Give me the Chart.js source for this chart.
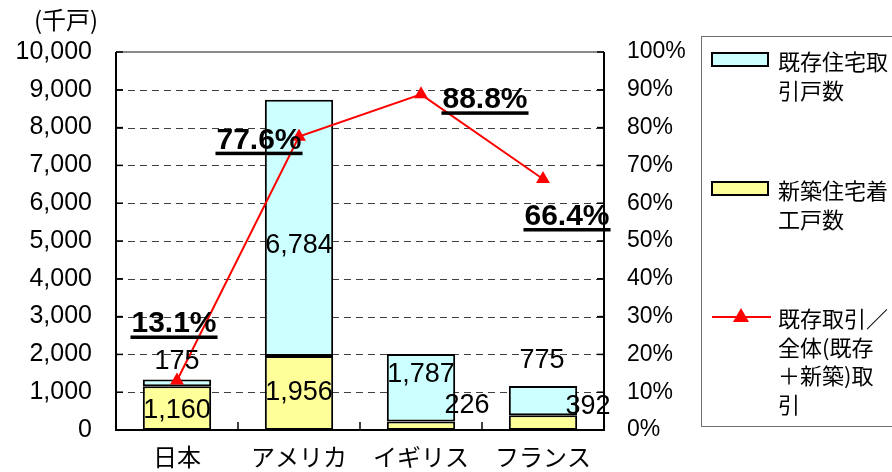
<!DOCTYPE html>
<html><head><meta charset="utf-8">
<script src="https://cdn.jsdelivr.net/npm/chart.js@4"></script>
<style>html,body{margin:0;padding:0;background:#fff;overflow:hidden}#wrap{width:892px;height:472px;position:relative}</style>
</head><body><div id="wrap"><canvas id="c" width="892" height="472"></canvas></div>
<script>
// ---- data ----
const categories = ['日本', 'アメリカ', 'イギリス', 'フランス'];
const newBuilt = [1160, 1956, 226, 392];          // 新築住宅着工戸数（千戸）
const existing = [175, 6784, 1787, 775];          // 既存住宅取引戸数（千戸）
const existingShare = [13.1, 77.6, 88.8, 66.4];   // 既存取引／全体（%）
const seriesNames = ['既存住宅取引戸数', '新築住宅着工戸数', '既存取引／全体(既存＋新築)取引'];
const unitLabel = '(千戸)';

// ---- label placement (style only) ----
const newLabelOffsets = [[0, 2], [0, 0], [46, -20], [45, -16]];
const existingLabelOffsets = [[0, -21], [0, 18], [0, -13], [-1, -40]];
const shareLabelOffsets = [[-3, -59], [-40, 1], [64, 3], [24, 35]];

const FONT = '"Liberation Sans", Arial, "Noto Sans CJK JP", sans-serif';
const CJK = '"Noto Sans CJK JP", "Liberation Sans", sans-serif';
const CYAN = '#CCFFFF', YELLOW = '#FFFF99', RED = '#FF0000';

function fmt(v) { return v.toLocaleString('en-US'); }

const overlay = {
  id: 'overlay',
  beforeDatasetsDraw(chart) {
    const { ctx, chartArea: a, scales } = chart;
    ctx.save();
    ctx.strokeStyle = '#404040'; ctx.lineWidth = 1; ctx.setLineDash([7, 5]);
    scales.y.ticks.forEach(t => {
      if (t.value <= 0 || t.value >= 10000) return;
      const yy = Math.round(scales.y.getPixelForValue(t.value)) + 0.5;
      ctx.beginPath(); ctx.moveTo(a.left, yy); ctx.lineTo(a.right, yy); ctx.stroke();
    });
    ctx.setLineDash([]);
    ctx.strokeStyle = '#8a8a8a'; ctx.lineWidth = 2;
    ctx.beginPath(); ctx.moveTo(a.left, a.top); ctx.lineTo(a.right, a.top); ctx.stroke();
    ctx.strokeStyle = '#000'; ctx.lineWidth = 2;
    ctx.beginPath();
    ctx.moveTo(a.left, a.top); ctx.lineTo(a.left, a.bottom); ctx.lineTo(a.right, a.bottom); ctx.lineTo(a.right, a.top);
    ctx.stroke();
    ctx.lineWidth = 1.5;
    scales.y.ticks.forEach(t => {
      const yy = scales.y.getPixelForValue(t.value);
      ctx.beginPath(); ctx.moveTo(a.left, yy); ctx.lineTo(a.left + 7, yy); ctx.stroke();
    });
    scales.y1.ticks.forEach(t => {
      const yy = scales.y1.getPixelForValue(t.value);
      ctx.beginPath(); ctx.moveTo(a.right - 7, yy); ctx.lineTo(a.right, yy); ctx.stroke();
    });
    const n = categories.length, cw = (a.right - a.left) / n;
    for (let i = 1; i < n; i++) {
      const xx = scales.x.getPixelForValue(i) - cw / 2;
      ctx.beginPath(); ctx.moveTo(xx, a.bottom); ctx.lineTo(xx, a.bottom - 8); ctx.stroke();
    }
    ctx.restore();
  },
  afterDatasetsDraw(chart) {
    const { ctx } = chart;
    ctx.save();
    ctx.fillStyle = '#000';
    ctx.textAlign = 'center'; ctx.textBaseline = 'middle';
    ctx.font = '27px ' + FONT;
    const mNew = chart.getDatasetMeta(0), mEx = chart.getDatasetMeta(1), mLine = chart.getDatasetMeta(2);
    mNew.data.forEach((b, i) => {
      const o = newLabelOffsets[i];
      ctx.fillText(fmt(newBuilt[i]), b.x + o[0], (b.y + b.base) / 2 + o[1]);
    });
    mEx.data.forEach((b, i) => {
      const o = existingLabelOffsets[i];
      ctx.fillText(fmt(existing[i]), b.x + o[0], (b.y + b.base) / 2 + o[1]);
    });
    ctx.font = 'bold 30px ' + FONT;
    ctx.textBaseline = 'alphabetic';
    mLine.data.forEach((p, i) => {
      const o = shareLabelOffsets[i];
      const txt = existingShare[i].toFixed(1) + '%';
      const w = ctx.measureText(txt).width;
      const cx = p.x + o[0], cy = p.y + o[1];
      const base = cy + 11;
      ctx.fillText(txt, cx, base);
      ctx.fillRect(cx - w / 2 - 1, base + 3, w + 2, 3.5);
    });
    ctx.restore();
  },
  afterDraw(chart) {
    const { ctx } = chart;
    ctx.save();
    ctx.fillStyle = '#000';
    ctx.font = '24px ' + CJK;
    ctx.textAlign = 'center'; ctx.textBaseline = 'middle';
    ctx.fillText(unitLabel, 66, 20);
    ctx.strokeStyle = '#6e6e6e'; ctx.lineWidth = 1;
    ctx.strokeRect(701.5, 36.5, 220, 390);
    const chunk = s => { const out = []; const ch = Array.from(s); for (let k = 0; k < ch.length; k += 5) out.push(ch.slice(k, k + 5).join('')); return out; };
    ctx.font = '22px ' + CJK;
    ctx.textAlign = 'left';
    const entries = [
      { kind: 'box', color: CYAN, y: 60, label: seriesNames[0] },
      { kind: 'box', color: YELLOW, y: 189, label: seriesNames[1] },
      { kind: 'line', color: RED, y: 317, label: seriesNames[2] }
    ];
    entries.forEach(e => {
      if (e.kind === 'box') {
        ctx.fillStyle = e.color; ctx.fillRect(712, e.y - 7, 56, 13);
        ctx.strokeStyle = '#000'; ctx.lineWidth = 2; ctx.strokeRect(712, e.y - 7, 56, 13);
      } else {
        ctx.strokeStyle = e.color; ctx.lineWidth = 2;
        ctx.beginPath(); ctx.moveTo(712, e.y); ctx.lineTo(771, e.y); ctx.stroke();
        ctx.fillStyle = e.color;
        ctx.beginPath(); ctx.moveTo(741, e.y - 9); ctx.lineTo(749, e.y + 5); ctx.lineTo(733, e.y + 5); ctx.closePath(); ctx.fill();
      }
      ctx.fillStyle = '#000';
      chunk(e.label).forEach((ln, k) => ctx.fillText(ln, 778, e.y + 2 + k * 28.5));
    });
    ctx.restore();
  }
};

new Chart(document.getElementById('c'), {
  data: {
    labels: categories,
    datasets: [
      { type: 'bar', label: seriesNames[1], data: newBuilt, backgroundColor: YELLOW, borderColor: '#000', borderWidth: 2, borderSkipped: false, yAxisID: 'y', order: 2, barPercentage: 0.56, categoryPercentage: 1 },
      { type: 'bar', label: seriesNames[0], data: existing, backgroundColor: CYAN, borderColor: '#000', borderWidth: 2, borderSkipped: false, yAxisID: 'y', order: 2, barPercentage: 0.56, categoryPercentage: 1 },
      { type: 'line', label: seriesNames[2], data: existingShare, borderColor: RED, backgroundColor: RED, borderWidth: 2, pointStyle: 'triangle', pointRadius: 8, pointBorderWidth: 0, pointBackgroundColor: RED, yAxisID: 'y1', order: 0, tension: 0 }
    ]
  },
  options: {
    responsive: false,
    animation: false,
    layout: { padding: { top: 52, right: 191, left: 0, bottom: 0 } },
    plugins: { legend: { display: false }, tooltip: { enabled: false } },
    scales: {
      x: {
        stacked: true,
        grid: { display: false, drawTicks: false },
        border: { display: false },
        ticks: { color: '#000', font: { size: 24, family: CJK }, padding: 12 },
        afterFit(s) { s.height = 42; }
      },
      y: {
        stacked: true, position: 'left', min: 0, max: 10000,
        grid: { display: false, drawTicks: false },
        border: { display: false },
        ticks: { stepSize: 1000, color: '#000', font: { size: 25, family: FONT }, padding: 24, callback: v => fmt(v) },
        afterFit(s) { s.width = 116; }
      },
      y1: {
        position: 'right', min: 0, max: 100,
        grid: { display: false, drawTicks: false },
        border: { display: false },
        ticks: { stepSize: 10, color: '#000', font: { size: 23, family: FONT }, padding: 23, callback: v => v + '%' },
        afterFit(s) { s.width = 97; }
      }
    }
  },
  plugins: [overlay]
});
</script>
</body></html>
